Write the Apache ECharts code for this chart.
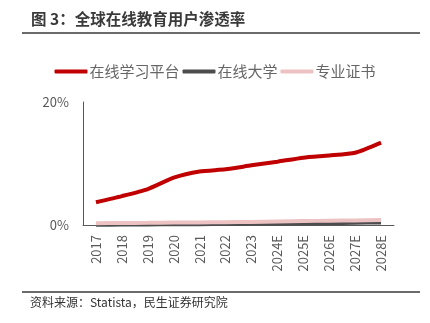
<!DOCTYPE html>
<html><head><meta charset="utf-8">
<script src="https://cdn.jsdelivr.net/npm/echarts@6/dist/echarts.min.js"></script>
<style>html,body{margin:0;padding:0;background:#fff}#c{width:430px;height:323px}</style>
</head><body><div id="c"></div>
<script>
const categories = ['2017','2018','2019','2020','2021','2022','2023','2024E','2025E','2026E','2027E','2028E'];
const platform = [3.7, 4.7, 5.85, 7.7, 8.7, 9.05, 9.7, 10.3, 10.95, 11.3, 11.75, 13.4];
const university = [0.05, 0.07, 0.1, 0.12, 0.14, 0.16, 0.2, 0.24, 0.28, 0.32, 0.36, 0.42];
const certificate = [0.3, 0.32, 0.35, 0.4, 0.42, 0.45, 0.5, 0.58, 0.64, 0.7, 0.74, 0.8];
const seriesNames = ['在线学习平台', '在线大学', '专业证书'];
const colors = ['#C00000', '#4D4D4F', '#EDC2C2'];
const zs = [3, 1, 2];
const FONT = '"Noto Sans CJK SC", sans-serif';

const chart = echarts.init(document.getElementById('c'));
const data = [platform, university, certificate];
chart.setOption({
  animation: false,
  textStyle: {fontFamily: FONT},
  graphic: [
    {type: 'text', left: 31, top: 11, style: {text: '图 3：全球在线教育用户渗透率', font: 'bold 15.5px ' + FONT, fill: '#3a3a3a'}},
    {type: 'line', shape: {x1: 22, y1: 33, x2: 420, y2: 33}, style: {stroke: '#6b6b6b', lineWidth: 2}},
    {type: 'line', shape: {x1: 22, y1: 292, x2: 420, y2: 292}, style: {stroke: '#6b6b6b', lineWidth: 2}},
    {type: 'text', left: 30, top: 296, style: {text: '资料来源：Statista，民生证券研究院', font: '12px ' + FONT, fill: '#333'}}
  ],
  legend: {
    top: 59, left: 'center', itemGap: 3, itemWidth: 33, itemHeight: 4,
    icon: 'roundRect',
    textStyle: {fontSize: 15, color: '#666', padding: [0, 0, 0, -3]},
    data: seriesNames
  },
  grid: {left: 83, right: 36, top: 102, bottom: 98},
  xAxis: {
    type: 'category', data: categories, boundaryGap: true,
    axisLine: {lineStyle: {color: '#595959', width: 1}},
    axisTick: {show: false},
    axisLabel: {rotate: 90, fontSize: 13, color: '#595959', margin: 10}
  },
  yAxis: {
    type: 'value', min: 0, max: 20, interval: 20,
    axisLine: {show: true, lineStyle: {color: '#595959'}},
    axisTick: {show: false},
    splitLine: {show: false},
    axisLabel: {formatter: '{value}%', fontSize: 13, color: '#595959', margin: 14}
  },
  series: [1, 2, 0].map(i => ({
    name: seriesNames[i], type: 'line', data: data[i], showSymbol: false, smooth: 0.2,
    lineStyle: {color: colors[i], width: 4}, itemStyle: {color: colors[i]}, z: zs[i]
  }))
});
</script></body></html>
